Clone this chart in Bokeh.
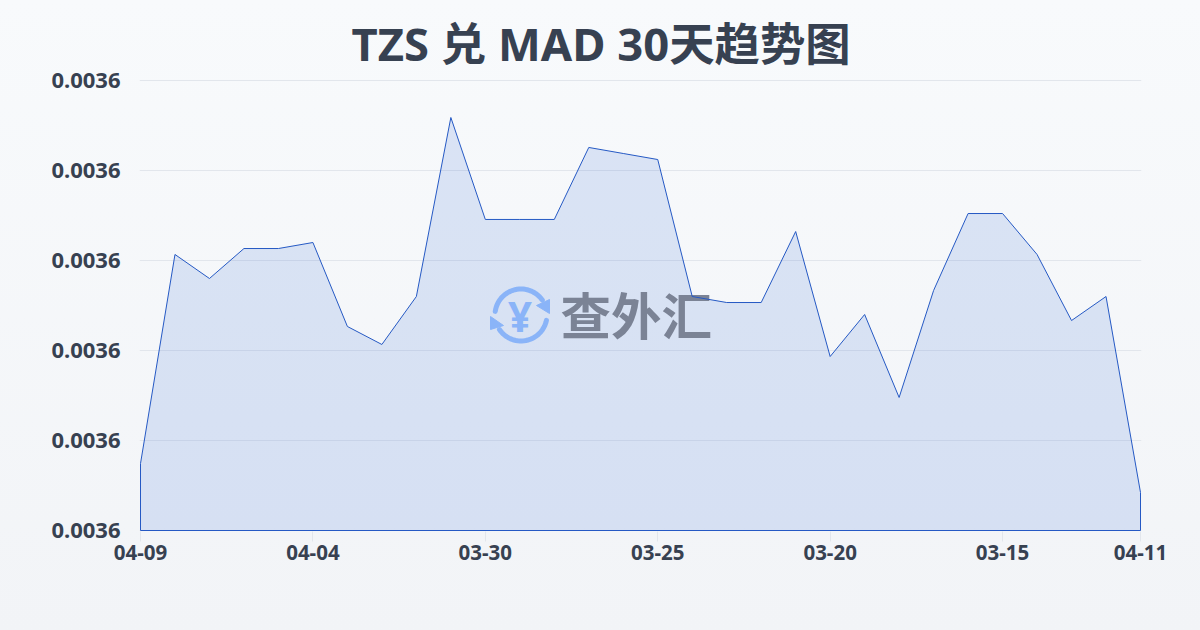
from bokeh.plotting import figure
from bokeh.embed import file_html
from bokeh.resources import INLINE
from bokeh.models import FixedTicker, InlineStyleSheet, Range1d
from bokeh.core.properties import value
import math

TITLE = "TZS 兑 MAD 30天趋势图"
dates = ["04-09","04-08","04-07","04-06","04-05","04-04","04-03","04-02","04-01","03-31",
         "03-30","03-29","03-28","03-27","03-26","03-25","03-24","03-23","03-22","03-21",
         "03-20","03-19","03-18","03-17","03-16","03-15","03-14","03-13","03-12","04-11"]
rates = [0.00358744,0.00361067,0.00360800,0.00361133,0.00361133,0.00361200,0.00360267,0.00360067,
         0.00360600,0.00362589,0.00361456,0.00361456,0.00361456,0.00362256,0.00362189,0.00362122,
         0.00360600,0.00360533,0.00360533,0.00361322,0.00359933,0.00360400,0.00359478,0.00360667,
         0.00361522,0.00361522,0.00361067,0.00360333,0.00360600,0.00358422]
x_tick_idx = [0,5,10,15,20,25,29]
y_ticks = [0.00358,0.00359,0.00360,0.00361,0.00362,0.00363]
Y_LO, Y_HI = 0.00358, 0.00363

TITLE_FONT = '"Noto Sans", "Noto Sans CJK SC", sans-serif'
TICK_FONT = "Noto Sans"
INK = "#374151"
LINE = "#2559c4"
FILL = "#2860d8"
GRID = "#e2e6ec"

idx = list(range(len(rates)))
n = len(rates) - 1
# one spare pixel round the frame, so that lines on its edge are not clipped
x_pad = n / 1000
y_pad = (Y_HI - Y_LO) / 450
p = figure(width=1200, height=630, output_backend="svg", toolbar_location=None,
           x_range=Range1d(-x_pad, n + x_pad), y_range=Range1d(Y_LO - y_pad, Y_HI + y_pad),
           min_border_left=139, min_border_right=59, min_border_top=79, min_border_bottom=99)
p.stylesheets = [InlineStyleSheet(css=":host{position:fixed;left:0;top:0;background:linear-gradient(180deg,#f8fafc,#f2f4f7);}")]
p.background_fill_alpha = 0
p.border_fill_alpha = 0
p.outline_line_color = None

p.title.text = TITLE
p.title.align = "left"
p.title.offset = 212
p.title.text_font = TITLE_FONT
p.title.text_font_size = "45.4px"
p.title.text_font_style = "bold"
p.title.text_color = INK
p.title.standoff = 11

p.xgrid.visible = False
p.ygrid.ticker = FixedTicker(ticks=y_ticks)
p.ygrid.grid_line_color = GRID
p.ygrid.grid_line_width = 1

p.xaxis.ticker = FixedTicker(ticks=x_tick_idx)
p.xaxis.major_label_overrides = {i: dates[i] for i in x_tick_idx}
p.xaxis.major_tick_line_color = GRID
p.xaxis.major_tick_in = 0
p.xaxis.major_tick_out = 10
p.xaxis.minor_tick_line_color = None
p.xaxis.axis_line_color = None
p.xaxis.major_label_text_font = TICK_FONT
p.xaxis.major_label_text_font_size = "20.5px"
p.xaxis.major_label_text_font_style = "bold"
p.xaxis.major_label_text_color = INK
p.xaxis.major_label_standoff = 3

p.yaxis.ticker = FixedTicker(ticks=y_ticks)
p.yaxis.major_label_overrides = {t: f"{t:.4f}" for t in y_ticks}
p.yaxis.major_tick_line_color = None
p.yaxis.major_tick_in = 0
p.yaxis.major_tick_out = 0
p.yaxis.minor_tick_line_color = None
p.yaxis.axis_line_color = None
p.yaxis.major_label_text_font = TICK_FONT
p.yaxis.major_label_text_font_size = "22px"
p.yaxis.major_label_text_font_style = "bold"
p.yaxis.major_label_text_color = INK
p.yaxis.major_label_text_line_height = 0.6
p.yaxis.major_label_standoff = 19

# pixel -> data helpers, for the watermark only
def dx(px): return (px-140)/1000*n
def dy(py): return Y_LO+(530-py)/450*(Y_HI-Y_LO)

p.varea(idx, [Y_LO]*len(idx), rates, fill_color=FILL, fill_alpha=0.14)

# watermark
WM_BLUE = "#8ab4f8"
WM_GRAY = "#7b8395"
cx, cy, r = 520.5, 314.5, 26
def arc_pts(a0, a1, steps=30):
    return ([dx(cx+r*math.cos(math.radians(a0+(a1-a0)*i/steps))) for i in range(steps+1)],
            [dy(cy-r*math.sin(math.radians(a0+(a1-a0)*i/steps))) for i in range(steps+1)])
for a0, a1 in ((172, 35), (-12, -146)):
    xs, ys = arc_pts(a0, a1)
    p.line(xs, ys, line_color=WM_BLUE, line_width=5, line_cap="round")
p.patch([dx(v) for v in (549,549,536)], [dy(v) for v in (299,313,305)], color=WM_BLUE)
p.patch([dx(v) for v in (490,490,503)], [dy(v) for v in (316,329,325)], color=WM_BLUE)
p.text([dx(cx-1)], [dy(cy)], text=["¥"], text_font=value(TITLE_FONT), text_font_size="42px",
       text_font_style="bold", text_color=WM_BLUE, text_align="center", text_baseline="middle")
p.text([dx(560)], [dy(312)], text=["查外汇"], text_font=value('"Noto Sans CJK SC"'), text_font_size="50.5px",
       text_font_style="bold", text_color=WM_GRAY, text_align="left", text_baseline="middle")

outline_x = [idx[0]] + idx + [idx[-1], idx[0]]
outline_y = [Y_LO] + rates + [Y_LO, Y_LO]
p.line(outline_x, outline_y, line_color=LINE, line_width=1)

open("out.html", "w").write(file_html(p, INLINE))
